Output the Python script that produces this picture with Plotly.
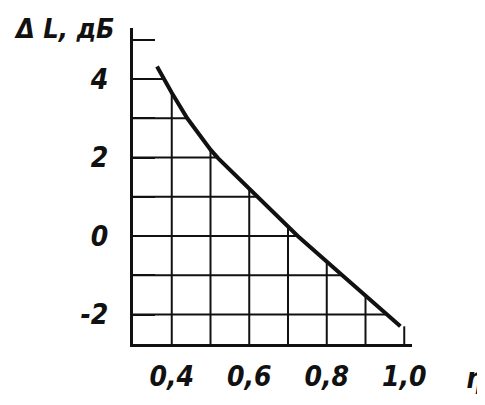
import numpy as np
import plotly.graph_objects as go

# Curve: ΔL (dB) versus η
eta = [0.362, 0.40, 0.44, 0.50, 0.52, 0.62, 0.725, 0.84, 0.955, 0.99]
dL = [4.32, 3.65, 3.0, 2.2, 1.98, 1.0, 0.0, -1.0, -2.0, -2.3]

# Grid (drawn only below the curve) and tick labels
x_grid = [0.4, 0.5, 0.6, 0.7, 0.8, 0.9, 1.0]
y_grid = [-2, -1, 0, 1, 2, 3, 4]
x_ticks = [0.4, 0.6, 0.8, 1.0]
x_ticktext = ["0,4", "0,6", "0,8", "1,0"]
y_ticks = [-2, -1, 0, 1, 2, 3, 4, 5]
y_ticktext = ["-2", "", "0", "", "2", "", "4", ""]
x_range = [0.3, 1.02]
y_range = [-2.75, 5.3]

ink = "#111111"
font_family = "DejaVu Sans Condensed, DejaVu Sans, sans-serif"

# grid segments clipped by the curve
gx, gy = [], []
for xv in x_grid:
    top = float(np.interp(xv, eta, dL))
    gx += [xv, xv, None]
    gy += [y_range[0], top, None]
for yv in y_grid:
    if yv > max(dL):
        continue
    right = float(np.interp(yv, dL[::-1], eta[::-1]))
    gx += [x_range[0], right, None]
    gy += [yv, yv, None]

fig = go.Figure()
fig.add_trace(go.Scatter(x=gx, y=gy, mode="lines",
                         line=dict(color=ink, width=2), hoverinfo="skip",
                         showlegend=False))
fig.add_trace(go.Scatter(x=eta, y=dL, mode="lines",
                         line=dict(color=ink, width=4), showlegend=False))

tick_font = dict(family=font_family, size=28, color=ink, style="italic", weight="bold")

# the page body adds an 8 px margin, so the figure is 8 px smaller and offset
fig.update_layout(
    width=477, height=397,
    margin=dict(l=125, r=73, t=20, b=53),
    paper_bgcolor="white", plot_bgcolor="white",
    xaxis=dict(range=x_range, showgrid=False, zeroline=False,
               showline=True, linecolor=ink, linewidth=3,
               tickvals=x_ticks, ticktext=x_ticktext, ticks="",
               tickfont=tick_font, ticklabelstandoff=5),
    yaxis=dict(range=y_range, showgrid=False, zeroline=False,
               showline=True, linecolor=ink, linewidth=3,
               tickvals=y_ticks, ticktext=y_ticktext,
               ticks="inside", ticklen=22, tickwidth=2, tickcolor=ink,
               tickfont=tick_font, ticklabelstandoff=16),
    annotations=[
        dict(text="Δ L, дБ", xref="paper", yref="paper", x=-0.434, y=1.0,
             xanchor="left", yanchor="middle", showarrow=False,
             font=dict(family=font_family, size=27, color=ink, style="italic", weight="bold")),
        dict(text="η", xref="paper", yref="paper", x=1.226, y=-0.11,
             xanchor="center", yanchor="middle", showarrow=False,
             font=dict(family=font_family, size=28, color=ink, style="italic", weight="bold")),
    ],
)

fig.write_html("out.html")
